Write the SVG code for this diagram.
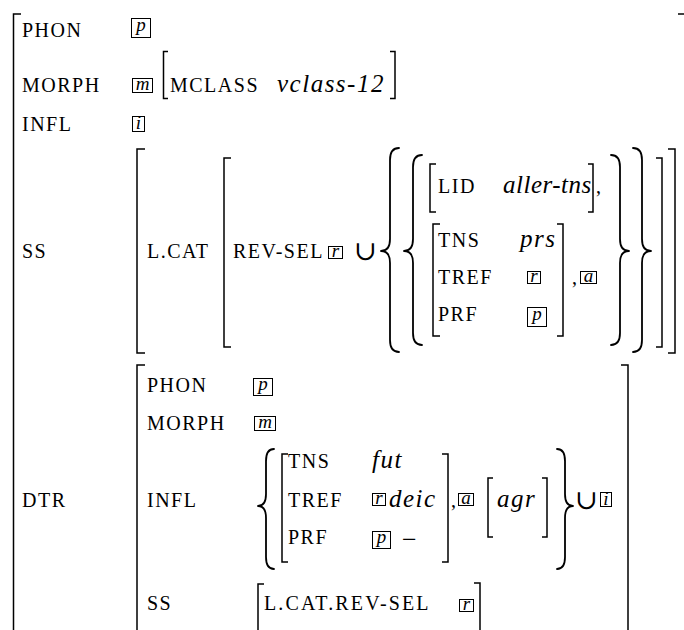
<svg xmlns="http://www.w3.org/2000/svg" width="684" height="630" viewBox="0 0 684 630">
<style>
text{font-family:"Liberation Serif","Times New Roman",serif;fill:#000}
.r{font-size:20px;letter-spacing:1.5px}
.i{font-size:25px;font-style:italic;letter-spacing:1.5px}
.b{font-size:19px;font-style:italic;text-anchor:middle}
.bx{fill:none;stroke:#000;stroke-width:1}
.k{fill:none;stroke:#000;stroke-width:1.5}
.br{fill:none;stroke:#000;stroke-width:1.8;stroke-linejoin:round;stroke-linecap:round}
.u{font-family:"DejaVu Serif",serif;font-size:27px}
</style>
<rect width="684" height="630" fill="#fff"/>

<g id="outer">
<path class="k" d="M21 14 H13.5 V640"/>
<path class="k" d="M678 14 H686"/>
</g>

<g id="row-phon">
<text class="r" x="22" y="37">PHON</text>
<rect class="bx" x="131.5" y="18.5" width="19" height="19"/>
<text class="b" x="141" y="31">p</text>
</g>

<g id="row-morph">
<text class="r" x="22" y="92">MORPH</text>
<rect class="bx" x="132.5" y="78.5" width="20" height="14"/>
<text class="b" x="142.5" y="89.5">m</text>
<path class="k" d="M168 51.5 H163.5 V98.5 H168"/>
<text class="r" x="170" y="92">MCLASS</text>
<text class="i" x="277" y="92">vclass-12</text>
<path class="k" d="M390 51.5 H395 V98.5 H390"/>
</g>

<g id="row-infl">
<text class="r" x="22" y="131">INFL</text>
<rect class="bx" x="132.5" y="116.5" width="12" height="15"/>
<text class="b" x="138.5" y="129">i</text>
</g>

<g id="row-ss">
<text class="r" x="22" y="258">SS</text>
<path class="k" d="M145 149 H137 V353 H145"/>
<text class="r" x="147" y="258">L.CAT</text>
<path class="k" d="M231 158 H224 V347 H231"/>
<text class="r" x="233" y="258">REV-SEL</text>
<rect class="bx" x="328.5" y="246.5" width="14" height="12"/>
<text class="b" x="335.5" y="256.5">r</text>
<text class="u" x="354" y="260">∪</text>
<path class="br" d="M399 148 Q390 148 390 160 L390 239 Q390 251 381 251 Q390 251 390 263 L390 340 Q390 352 399 352"/>
<path class="br" d="M422 155 Q413 155 413 167 L413 239 Q413 251 404 251 Q413 251 413 263 L413 333 Q413 345 422 345"/>
<path class="k" d="M436 164 H430 V212 H436"/>
<text class="r" x="438" y="193">LID</text>
<text class="i" x="503" y="193" style="letter-spacing:0.5px">aller-tns</text>
<path class="k" d="M588 164 H593 V212 H588"/>
<text class="r" x="596" y="193">,</text>
<path class="k" d="M440 224 H433 V336 H440"/>
<text class="r" x="438" y="247">TNS</text>
<text class="r" x="438" y="284">TREF</text>
<text class="r" x="438" y="321">PRF</text>
<text class="i" x="520" y="247">prs</text>
<rect class="bx" x="527.5" y="271.5" width="13" height="12"/>
<text class="b" x="534" y="281.5">r</text>
<rect class="bx" x="527.5" y="307.5" width="19" height="19"/>
<text class="b" x="537" y="320">p</text>
<path class="k" d="M557 224 H563 V336 H557"/>
<text class="r" x="572" y="284">,</text>
<rect class="bx" x="580.5" y="271.5" width="16" height="12"/>
<text class="b" x="588.5" y="281.5">a</text>
<path class="br" d="M611 155 Q620 155 620 167 L620 239 Q620 251 629 251 Q620 251 620 263 L620 333 Q620 345 611 345"/>
<path class="br" d="M633 148 Q642 148 642 160 L642 239 Q642 251 651 251 Q642 251 642 263 L642 340 Q642 352 633 352"/>
<path class="k" d="M656 158 H662 V347 H656"/>
<path class="k" d="M668 149 H675 V353 H668"/>
</g>

<g id="row-dtr">
<text class="r" x="22" y="507">DTR</text>
<path class="k" d="M145 365 H137 V640"/>
<text class="r" x="147" y="392">PHON</text>
<rect class="bx" x="253.5" y="378.5" width="19" height="17"/>
<text class="b" x="263" y="390">p</text>
<text class="r" x="147" y="430">MORPH</text>
<rect class="bx" x="254.5" y="416.5" width="21" height="14"/>
<text class="b" x="265" y="427.5">m</text>
<text class="r" x="147" y="507">INFL</text>
<path class="br" d="M274 449 Q266 449 266 461 L266 494 Q266 506 258 506 Q266 506 266 518 L266 557 Q266 569 274 569"/>
<path class="k" d="M288 454 H282 V562 H288"/>
<text class="r" x="288" y="468">TNS</text>
<text class="r" x="288" y="507">TREF</text>
<text class="r" x="288" y="544">PRF</text>
<text class="i" x="372" y="468">fut</text>
<rect class="bx" x="372.5" y="493.5" width="13" height="12"/>
<text class="b" x="379" y="503.5">r</text>
<text class="i" x="389" y="507">deic</text>
<rect class="bx" x="372.5" y="531.5" width="18" height="17"/>
<text class="b" x="381.5" y="543">p</text>
<text class="r" x="402" y="548" style="font-size:26px">−</text>
<path class="k" d="M442 454 H448 V562 H442"/>
<text class="r" x="451" y="507">,</text>
<rect class="bx" x="458.5" y="493.5" width="15" height="12"/>
<text class="b" x="466" y="503.5">a</text>
<path class="k" d="M493 478 H488 V537 H493"/>
<text class="i" x="497" y="507">agr</text>
<path class="k" d="M542 478 H547 V537 H542"/>
<path class="br" d="M557 449 Q565 449 565 461 L565 494 Q565 506 573 506 Q565 506 565 518 L565 557 Q565 569 557 569"/>
<text class="u" x="575" y="509">∪</text>
<rect class="bx" x="600.5" y="492.5" width="11" height="14"/>
<text class="b" x="606" y="504.5">i</text>
<path class="k" d="M621 365 H628 V640"/>
<text class="r" x="147" y="610">SS</text>
<path class="k" d="M264 584 H258 V640"/>
<text class="r" x="264" y="610" textLength="166">L.CAT.REV-SEL</text>
<rect class="bx" x="459.5" y="599.5" width="14" height="12"/>
<text class="b" x="466.5" y="609.5">r</text>
<path class="k" d="M474 583 H480 V640"/>
</g>
</svg>
